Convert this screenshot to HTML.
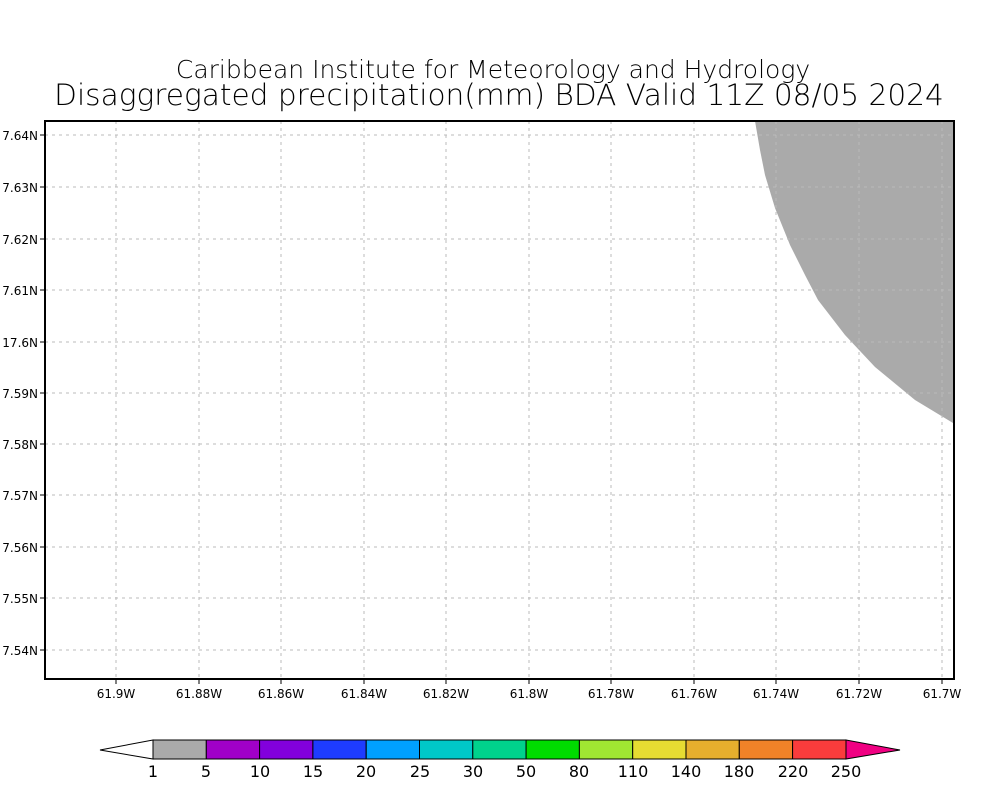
<!DOCTYPE html>
<html><head><meta charset="utf-8"><style>
html,body{margin:0;padding:0;background:#fff;}
svg{display:block;}
text{font-family:"DejaVu Sans","Liberation Sans",sans-serif;fill:#000;}
</style></head><body>
<svg width="1000" height="800" viewBox="0 0 1000 800" xmlns="http://www.w3.org/2000/svg">
<rect width="1000" height="800" fill="#fff"/>
<text x="493" y="78" font-size="25" text-anchor="middle" font-weight="300">Caribbean Institute for Meteorology and Hydrology</text>
<text x="499" y="105" font-size="29.6" text-anchor="middle" font-weight="300">Disaggregated precipitation(mm) BDA Valid 11Z 08/05 2024</text>
<path d="M755,121 L760,150 L765,175 L775,208 L790,245 L805,275 L818,300 L845,335 L875,367 L915,400 L953,423 L953,121 Z" fill="#aaaaaa"/>
<g stroke="#bbb" stroke-width="1" stroke-dasharray="3,4" fill="none">
<path d="M116,121V679M199,121V679M281,121V679M364,121V679M446,121V679M529,121V679M611,121V679M694,121V679M776,121V679M859,121V679M942,121V679"/>
<path d="M45,135H954M45,187H954M45,239H954M45,290H954M45,342H954M45,393H954M45,444H954M45,495H954M45,547H954M45,598H954M45,650H954"/>
</g>
<rect x="45" y="121" width="909" height="558" fill="none" stroke="#000" stroke-width="2"/>
<g stroke="#000" stroke-width="1">
<path d="M116,679v5M199,679v5M281,679v5M364,679v5M446,679v5M529,679v5M611,679v5M694,679v5M776,679v5M859,679v5M942,679v5"/>
<path d="M40,135h5M40,187h5M40,239h5M40,290h5M40,342h5M40,393h5M40,444h5M40,495h5M40,547h5M40,598h5M40,650h5"/>
</g>
<g font-size="12" text-anchor="end">
<text x="38" y="140">7.64N</text><text x="38" y="192">7.63N</text><text x="38" y="244">7.62N</text><text x="38" y="295">7.61N</text><text x="38" y="347">17.6N</text><text x="38" y="398">7.59N</text><text x="38" y="449">7.58N</text><text x="38" y="500">7.57N</text><text x="38" y="552">7.56N</text><text x="38" y="603">7.55N</text><text x="38" y="655">7.54N</text>
</g>
<g font-size="12" text-anchor="middle">
<text x="116" y="698">61.9W</text><text x="199" y="698">61.88W</text><text x="281" y="698">61.86W</text><text x="364" y="698">61.84W</text><text x="446" y="698">61.82W</text><text x="529" y="698">61.8W</text><text x="611" y="698">61.78W</text><text x="694" y="698">61.76W</text><text x="776" y="698">61.74W</text><text x="859" y="698">61.72W</text><text x="942" y="698">61.7W</text>
</g>
<g stroke="#000" stroke-width="1">
<polygon points="153,740 100,750 153,759" fill="#fff"/>
<rect x="153" y="740" width="53.3" height="19" fill="#aaaaaa"/>
<rect x="206.3" y="740" width="53.3" height="19" fill="#a000c8"/>
<rect x="259.6" y="740" width="53.3" height="19" fill="#8200dc"/>
<rect x="312.9" y="740" width="53.3" height="19" fill="#1e3cff"/>
<rect x="366.2" y="740" width="53.3" height="19" fill="#00a0ff"/>
<rect x="419.5" y="740" width="53.3" height="19" fill="#00c8c8"/>
<rect x="472.8" y="740" width="53.3" height="19" fill="#00d28c"/>
<rect x="526.1" y="740" width="53.3" height="19" fill="#00dc00"/>
<rect x="579.4" y="740" width="53.3" height="19" fill="#a0e632"/>
<rect x="632.7" y="740" width="53.3" height="19" fill="#e6dc32"/>
<rect x="686" y="740" width="53.3" height="19" fill="#e6af2d"/>
<rect x="739.3" y="740" width="53.3" height="19" fill="#f08228"/>
<rect x="792.6" y="740" width="53.4" height="19" fill="#fa3c3c"/>
<polygon points="846,740 900,750 846,759" fill="#f00082"/>
</g>
<g font-size="16" text-anchor="middle">
<text x="153" y="777">1</text><text x="206" y="777">5</text><text x="260" y="777">10</text><text x="313" y="777">15</text><text x="366" y="777">20</text><text x="420" y="777">25</text><text x="473" y="777">30</text><text x="526" y="777">50</text><text x="579" y="777">80</text><text x="633" y="777">110</text><text x="686" y="777">140</text><text x="739" y="777">180</text><text x="793" y="777">220</text><text x="846" y="777">250</text>
</g>
</svg>
</body></html>
